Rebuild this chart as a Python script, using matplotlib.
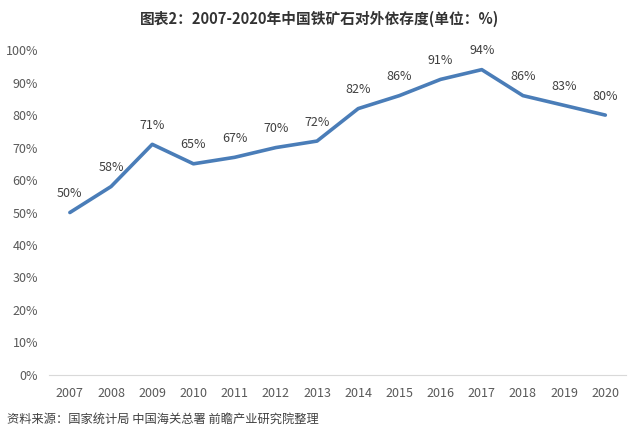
import matplotlib.pyplot as plt
import numpy as np

plt.rcParams['font.family'] = ['Noto Sans CJK SC', 'DejaVu Sans']

years = ['2007', '2008', '2009', '2010', '2011', '2012', '2013',
         '2014', '2015', '2016', '2017', '2018', '2019', '2020']
rate = [50, 58, 71, 65, 67, 70, 72, 82, 86, 91, 94, 86, 83, 80]
yticks = [0, 10, 20, 30, 40, 50, 60, 70, 80, 90, 100]

fig = plt.figure(figsize=(6.4, 4.4), dpi=100)
ax = fig.add_axes([0.077, 0.148, 0.901, 0.738])

x = np.arange(len(years))
ax.plot(x, rate, color='#4a7db8', linewidth=2.6, solid_capstyle='round')
for xi, v in zip(x, rate):
    ax.annotate(f'{v}%', (xi, v), xytext=(0, 9), textcoords='offset points',
                ha='center', va='bottom', fontsize=9, color='#404040')

ax.set_xlim(-0.5, len(years) - 0.5)
ax.set_ylim(0, 100)
ax.set_xticks(x)
ax.set_xticklabels(years)
ax.set_yticks(yticks)
ax.set_yticklabels([f'{t}%' for t in yticks])
ax.tick_params(length=0, labelsize=9, labelcolor='#595959')
ax.tick_params(axis='x', pad=9)
ax.tick_params(axis='y', pad=8)
for s in ['top', 'right', 'left']:
    ax.spines[s].set_visible(False)
ax.spines['bottom'].set_color('#d9d9d9')

fig.text(0.5, 0.957, '图表2：2007-2020年中国铁矿石对外依存度(单位：%)',
         ha='center', va='center', fontsize=10.6, fontweight='bold', color='#333333')
fig.text(0.011, 0.048, '资料来源：国家统计局 中国海关总署 前瞻产业研究院整理',
         ha='left', va='center', fontsize=8.8, color='#404040')

plt.savefig('out.png', dpi=100)
